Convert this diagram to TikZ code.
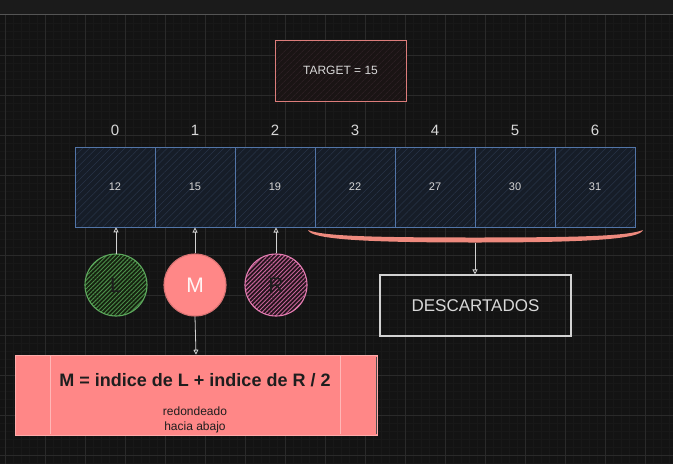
\documentclass[tikz,border=0pt]{standalone}
\usepackage{fontspec}
\setmainfont{Liberation Sans}
\usetikzlibrary{patterns.meta,arrows.meta}
\definecolor{bg}{HTML}{131313}
\definecolor{topbar}{HTML}{1B1B1B}
\definecolor{gridc}{HTML}{2A2A2A}
\definecolor{minorc}{HTML}{181818}
\definecolor{cellfill}{HTML}{161D28}
\definecolor{cellhatch}{HTML}{283447}
\definecolor{cellline}{HTML}{5275A8}
\definecolor{txt}{HTML}{D8D8D8}
\definecolor{salmon}{HTML}{FF8787}
\definecolor{bracec}{HTML}{EE8A7E}
\definecolor{greenc}{HTML}{5DAA5D}
\definecolor{greenh}{HTML}{4A8E4A}
\definecolor{greenf}{HTML}{16220F}
\definecolor{pinkc}{HTML}{E67DB3}
\definecolor{pinkh}{HTML}{C8649A}
\definecolor{pinkf}{HTML}{24141C}
\definecolor{targetc}{HTML}{DD7D7B}
\definecolor{targetf}{HTML}{1A1414}
\definecolor{targeth}{HTML}{33242A}
\definecolor{darktxt}{HTML}{1E1E1E}
\definecolor{arrowc}{HTML}{D2D2D2}
\tikzset{
  cell/.style={draw=cellline, line width=1pt, minimum width=80pt, minimum height=80pt,
    inner sep=0pt, text=txt, font=\fontsize{11}{13}\selectfont,
    preaction={fill=cellfill}, pattern={Lines[angle=45,distance=5pt,line width=0.5pt]},
    pattern color=cellhatch},
  idx/.style={text=txt, font=\fontsize{15}{18}\selectfont, inner sep=0pt},
  ptr/.style={circle, minimum size=62pt, inner sep=0pt, line width=1.1pt,
    font=\fontsize{21}{24}\selectfont},
  arr/.style={draw=arrowc, line width=0.8pt, -{Triangle[open,length=5pt,width=5pt]}},
  formula/.style={draw=salmon!70!white, fill=salmon, line width=0.6pt,
    minimum width=362pt, minimum height=80pt, inner sep=0pt},
  discbox/.style={draw=arrowc, line width=1.1pt, minimum width=191pt, minimum height=61pt,
    text=txt, font=\fontsize{17}{20}\selectfont, inner sep=0pt},
  targetbox/.style={draw=targetc, line width=1pt, minimum width=131pt, minimum height=61pt,
    text=txt, font=\fontsize{12}{14}\selectfont, inner sep=0pt,
    preaction={fill=targetf}, pattern={Lines[angle=45,distance=4pt,line width=0.5pt]},
    pattern color=targeth}
}
\begin{document}
\begin{tikzpicture}[x=1pt,y=-1pt]
\useasboundingbox (0,0) rectangle (673,464);
% background and grid
\fill[bg] (0,0) rectangle (673,464);
\fill[topbar] (0,0) rectangle (673,14);
\foreach \x in {13,21,...,669} \draw[minorc,line width=0.4pt] (\x,14) -- (\x,464);
\foreach \y in {23,31,...,463} \draw[minorc,line width=0.4pt] (0,\y) -- (673,\y);
\foreach \x in {5,45,...,645} \draw[gridc,line width=0.7pt] (\x,14) -- (\x,464);
\foreach \y in {55,95,...,455} \draw[gridc,line width=0.7pt] (0,\y) -- (673,\y);
\draw[gridc!80!white,line width=0.8pt] (0,14) -- (673,14);

% target
\node[targetbox] (target) at (340.5,70.5) {TARGET = 15};

% array cells and indices
\foreach \v [count=\i from 0] in {12,15,19,22,27,30,31} {
  \node[cell] (c\i) at (115+80*\i,187) {\v};
  \node[idx] (i\i) at (115+80*\i,130) {\i};
}

% pointers
\node[ptr, draw=greenc, text=darktxt, preaction={fill=greenf},
  pattern={Lines[angle=45,distance=3pt,line width=0.9pt]}, pattern color=greenh] (L) at (116,285) {L};
\node[ptr, draw=salmon!85!black, fill=salmon, text=white!92!salmon] (M) at (195,285) {M};
\node[ptr, draw=pinkc, text=darktxt, preaction={fill=pinkf},
  pattern={Lines[angle=45,distance=3pt,line width=0.9pt]}, pattern color=pinkh] (R) at (276,285) {R};

\draw[arr] (L.north) -- (L.north |- c0.south);
\draw[arr] (M.north) -- (M.north |- c1.south);
\draw[arr] (R.north) -- (R.north |- c2.south);

% formula box
\node[formula] (F) at (196,395) {};
\draw[white!40!salmon, line width=0.3pt] (50,356) -- (50,434);
\draw[white!40!salmon, line width=0.3pt] (340,356) -- (340,434);
\draw[black!70, line width=0.8pt] (376,357) -- (376,434);
\node[text=darktxt, font=\bfseries\fontsize{18}{21}\selectfont, inner sep=0pt] (ftitle) at (195,380) {M = indice de L + indice de R / 2};
\node[text=darktxt, font=\fontsize{12}{15}\selectfont, align=center, inner sep=0pt] (fsub) at (195,420) {redondeado\\hacia abajo};
\draw[arr] (M.south) -- (F.north);

% discarded brace
\fill[bracec] (308,230) .. controls (322,236) and (370,237.5) .. (475,237.5)
  .. controls (580,237.5) and (628,236) .. (643,230)
  .. controls (640,239) and (590,242.5) .. (475,242.5)
  .. controls (360,242.5) and (311,239) .. (308,230) -- cycle;
\coordinate (brc) at (475,242.5);
\node[discbox] (D) at (475.5,305.5) {DESCARTADOS};
\draw[arr] (brc) -- (brc |- D.north);
\end{tikzpicture}
\end{document}
